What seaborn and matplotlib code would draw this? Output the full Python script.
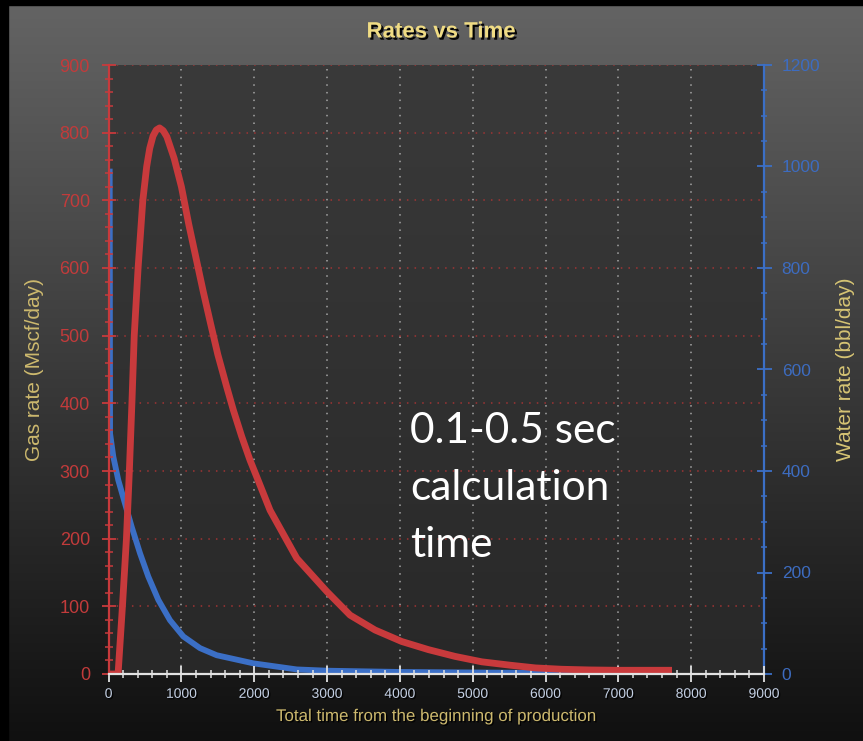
import numpy as np
import matplotlib
matplotlib.use("Agg")
import matplotlib.pyplot as plt
import matplotlib.patheffects as pe
from matplotlib.ticker import MultipleLocator
from matplotlib.patches import Rectangle
import seaborn as sns

# ---------------- data ----------------
gas_time = [0, 130, 190, 245, 285, 320, 352, 405, 470, 523, 565, 610, 655, 700,
            750, 800, 900, 1000, 1100, 1200, 1300, 1400, 1500, 1620, 1713, 1828,
            1942, 2043, 2217, 2584, 2996, 3316, 3659, 4026, 4392, 4758, 5125,
            5514, 5860, 6224, 6600, 7000, 7690]
gas_rate = [0, 0, 100, 200, 300, 400, 500, 600, 700, 750, 777, 795, 804, 807,
            803, 794, 762, 720, 665, 615, 565, 518, 472, 425, 390, 351,
            316, 289, 242, 171, 122, 87, 65, 48, 36, 26, 18,
            13, 9, 7, 6, 5.5, 5.5]

water_time = [15, 20, 65, 133, 225, 317, 431, 545, 683, 843, 1026, 1255, 1484,
              1988, 2584, 3000, 4000, 5000, 6000, 7000, 7690]
water_rate = [990, 474, 428, 382, 336, 290, 238, 192, 146, 106, 74, 51, 37,
              21, 9, 6.5, 4, 3, 2, 1.5, 1]

x_ticks = list(range(0, 9001, 1000))
gas_ticks = list(range(0, 901, 100))
water_ticks = list(range(0, 1201, 200))

title = "Rates vs Time"
x_label = "Total time from the beginning of production"
gas_label = "Gas rate (Mscf/day)"
water_label = "Water rate (bbl/day)"
note_lines = ["0.1-0.5 sec", "calculation", "time"]

# ---------------- style ----------------
RED = "#c83a3c"
RED_TXT = "#c23b3b"
BLUE = "#3b6fc6"
BLUE_TXT = "#3d6cc0"
GOLD = "#cdb96e"
TITLE_GOLD = "#f0dc84"
XTICK_TXT = "#c4d0e4"

plt.rcParams['font.family'] = ['Liberation Sans', 'DejaVu Sans']

W, H = 863, 741
fig = plt.figure(figsize=(W / 100, H / 100), dpi=100)


def vgrad(top, bottom, n=256):
    t = np.linspace(0, 1, n)[:, None]
    top = np.array(top) / 255.0
    bottom = np.array(bottom) / 255.0
    return (top * (1 - t) + bottom * t)[:, None, :]


# figure background gradient
bg = fig.add_axes([0, 0, 1, 1], zorder=-10)
bg.imshow(vgrad((100, 100, 100), (16, 16, 16)), aspect='auto',
          extent=[0, 1, 0, 1], interpolation='bilinear')
bg.set_xlim(0, 1)
bg.set_ylim(0, 1)
bg.axis('off')
bg.add_patch(Rectangle((0, 1 - 5 / H), 1, 5 / H, color='black'))
bg.add_patch(Rectangle((0, 0), 8 / W, 1, color='black'))

# plot area position
L, R, T, B = 108.6, 764, 65, 674
pos = [L / W, 1 - B / H, (R - L) / W, (B - T) / H]

# plot area background + grid
pbg = fig.add_axes(pos, zorder=-5)
pbg.imshow(vgrad((58, 58, 58), (40, 40, 40)), aspect='auto',
           extent=[x_ticks[0], x_ticks[-1], gas_ticks[0], gas_ticks[-1]],
           interpolation='bilinear')
pbg.set_xlim(x_ticks[0], x_ticks[-1])
pbg.set_ylim(gas_ticks[0], gas_ticks[-1])
pbg.set_xticks(x_ticks)
pbg.set_yticks(gas_ticks)
pbg.grid(axis='x', color='#a6a6a6', linestyle=(0, (1, 4)), linewidth=1.1)
pbg.grid(axis='y', color='#a03434', linestyle=(0, (1, 4)), linewidth=1.1)
pbg.tick_params(length=0, labelbottom=False, labelleft=False)
for s in pbg.spines.values():
    s.set_visible(False)

# main axes
ax = fig.add_axes(pos)
ax2 = ax.twinx()
ax.set_zorder(2)
ax2.set_zorder(1)
ax.patch.set_visible(False)
ax2.patch.set_visible(False)

sns.lineplot(x=water_time, y=water_rate, ax=ax2, color=BLUE, linewidth=4.2,
             sort=False)
sns.lineplot(x=gas_time, y=gas_rate, ax=ax, color=RED, linewidth=4.9,
             sort=False)

ax.set_xlim(x_ticks[0], x_ticks[-1])
ax.set_ylim(gas_ticks[0], gas_ticks[-1])
ax2.set_ylim(water_ticks[0], water_ticks[-1])

ax.set_xticks(x_ticks)
ax.set_xticklabels([str(v) for v in x_ticks])
ax.xaxis.set_minor_locator(MultipleLocator(200))
ax.set_yticks(gas_ticks)
ax.set_yticklabels([str(v) for v in gas_ticks])
ax.yaxis.set_minor_locator(MultipleLocator(20))
ax2.set_yticks(water_ticks)
ax2.set_yticklabels([str(v) for v in water_ticks])
ax2.yaxis.set_minor_locator(MultipleLocator(50))

# spines
for k in ['top', 'right']:
    ax.spines[k].set_visible(False)
ax.spines['left'].set_color(RED)
ax.spines['left'].set_linewidth(1.6)
ax.spines['bottom'].set_color('#e2e2e2')
ax.spines['bottom'].set_linewidth(1.6)
for k in ['top', 'left', 'bottom']:
    ax2.spines[k].set_visible(False)
ax2.spines['right'].set_color(BLUE)
ax2.spines['right'].set_linewidth(1.6)

# ticks
ax.tick_params(axis='x', which='major', direction='inout', length=11.5, width=1.3,
               color='#e2e2e2', labelcolor=XTICK_TXT, labelsize=10, pad=3.5)
ax.tick_params(axis='x', which='minor', direction='inout', length=6, width=1.1,
               color='#e2e2e2')
ax.tick_params(axis='y', which='major', direction='inout', length=10, width=1.3,
               color=RED, labelcolor=RED_TXT, labelsize=13, pad=8.4)
ax.tick_params(axis='y', which='minor', direction='inout', length=5.8, width=1.1,
               color=RED)
ax2.tick_params(axis='y', which='major', direction='inout', length=10.8, width=1.3,
                color=BLUE, labelcolor=BLUE_TXT, labelsize=12.5, pad=7.3)
ax2.tick_params(axis='y', which='minor', direction='inout', length=5, width=1.1,
                color=BLUE)

shadow = [pe.SimplePatchShadow(offset=(1, -1), shadow_rgbFace='black', alpha=0.9),
          pe.Normal()]
for lbl in ax.get_xticklabels():
    lbl.set_path_effects(shadow)

# axis labels
ax.set_xlabel(x_label, color=GOLD, fontsize=12.2)
ax.xaxis.set_label_coords(0.5, -(709 - B) / (B - T))
ax.xaxis.label.set_path_effects(shadow)
ax.set_ylabel(gas_label, color=GOLD, fontsize=15)
ax.yaxis.set_label_coords((44 - L) / (R - L), 0.5)
ax2.set_ylabel(water_label, color="#d6c474", fontsize=15)
ax2.yaxis.set_label_coords((836 - L) / (R - L), 0.5)

# title
fig.text(441 / W, 1 - 32 / H, title, ha='center', va='center', color=TITLE_GOLD,
         fontsize=16, fontweight='bold',
         path_effects=[pe.SimplePatchShadow(offset=(1.6, -1.6), shadow_rgbFace='black',
                                            alpha=0.95), pe.Normal()])

# annotation
for i, line in enumerate(note_lines):
    fig.text(410 / W, 1 - (443 + 57 * i) / H, line, ha='left', va='baseline',
             color='white', fontsize=30.5, family=['Lato', 'DejaVu Sans'])

fig.savefig("out.png", dpi=100)
